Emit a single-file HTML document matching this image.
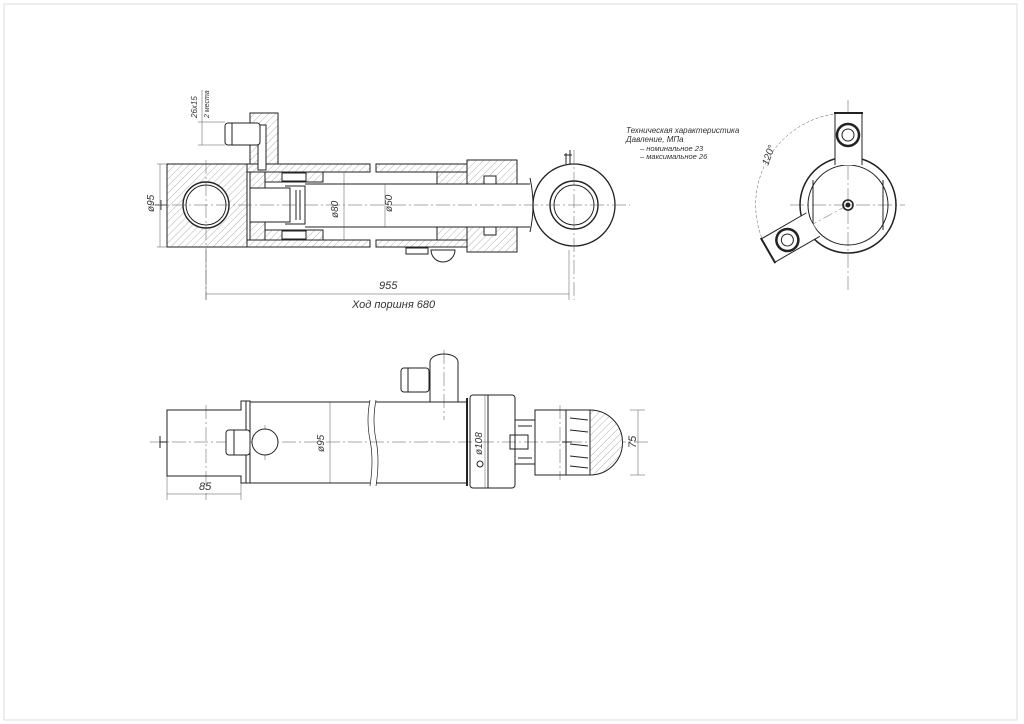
<!DOCTYPE html>
<html><head><meta charset="utf-8"><style>
html,body{margin:0;padding:0;background:#fff}
svg{display:block}
text{font-family:"Liberation Sans",sans-serif;font-style:italic;fill:#333}
</style></head><body>
<svg width="1024" height="724" viewBox="0 0 1024 724" xmlns="http://www.w3.org/2000/svg">
<defs>
<pattern id="h" width="5" height="5" patternUnits="userSpaceOnUse" patternTransform="rotate(45)">
<rect width="5" height="5" fill="#fff"/><line x1="0" y1="0" x2="0" y2="5" stroke="#666" stroke-width="0.5"/>
</pattern>
</defs>
<rect x="4" y="4" width="1013" height="716" fill="none" stroke="#ddd" stroke-width="1"/>
<g fill="none" stroke="#222" stroke-width="1">
<path d="M167 164H370M376 164H467M167 247H370M376 247H467" />
<rect x="167" y="164" width="80" height="83" fill="url(#h)"/>
<circle cx="206" cy="205" r="23" fill="#fff" stroke-width="1.4"/>
<circle cx="206" cy="205" r="20"/>
<rect x="247" y="164" width="123" height="8" fill="url(#h)"/>
<rect x="247" y="240" width="123" height="7" fill="url(#h)"/>
<rect x="376" y="164" width="91" height="8" fill="url(#h)"/>
<rect x="376" y="240" width="91" height="7" fill="url(#h)"/>
<rect x="250" y="113" width="28" height="51" fill="url(#h)"/>
<rect x="258" y="125" width="8" height="45" fill="#fff"/>
<rect x="225" y="123" width="35" height="22" rx="3" fill="#fff"/>
<path d="M232 123V145"/>
<rect x="250" y="172" width="15" height="68" fill="url(#h)"/>
<rect x="265" y="172" width="58" height="10" fill="url(#h)"/>
<rect x="265" y="230" width="58" height="10" fill="url(#h)"/>
<rect x="282" y="173" width="24" height="8" fill="#fff"/>
<rect x="282" y="231" width="24" height="8" fill="#fff"/>
<path d="M250 188H290V222H250Z" fill="#fff"/>
<path d="M285 186H305V224H285" />
<path d="M290 190V220M296 190V220M300 190V220"/>
<path d="M305 184H530M305 227H530"/>
<path d="M530 178Q536 205 530 232" />
<rect x="437" y="172" width="30" height="12" fill="url(#h)"/>
<rect x="437" y="227" width="30" height="13" fill="url(#h)"/>
<rect x="467" y="160" width="50" height="24" fill="url(#h)"/>
<rect x="467" y="227" width="50" height="25" fill="url(#h)"/>
<rect x="484" y="176" width="12" height="8" fill="#fff"/>
<rect x="484" y="227" width="12" height="8" fill="#fff"/>
<rect x="406" y="248" width="22" height="6"/>
<path d="M431 250A12 12 0 0 0 455 250Z" fill="#fff"/>
<circle cx="574" cy="205" r="41" fill="#fff" stroke-width="1.3"/>
<circle cx="574" cy="205" r="24" stroke-width="1.4"/>
<circle cx="574" cy="205" r="20"/>
<path d="M566 164V153M570 164V150M564 155H572"/>
<path d="M167 205H155M161 200V210" stroke-width="0.8"/>
</g>
<g fill="none" stroke="#555" stroke-width="0.5">
<path d="M150 205H630M206 160V300M574 150V300M848 100V290M790 205H905" stroke-dasharray="14 3 2 3"/>
<path d="M160 164V247M157 164H167M157 247H167"/>
<path d="M206 294H569M206 250V300M569 250V300"/>
<path d="M344 172V240M385 184V227"/>
<path d="M202 90V145M198 122H225M198 145H225"/>
<path d="M848 113A92 92 0 0 0 768 251" stroke-dasharray="3 2"/>
<path d="M848 205L780 242" stroke-dasharray="10 3 2 3"/>
<path d="M330 402V483M485 395V488M638 410V475M630 410H645M630 475H645M167 494H241M167 476V500M241 476V500"/>
<path d="M150 442H650M206 405V500M444 350V420M265 425V460M560 405V480" stroke-dasharray="14 3 2 3"/>
</g>
<g font-size="10">
<text x="379" y="289" font-size="11">955</text>
<text x="352" y="308" font-size="11">Ход поршня 680</text>
<text x="199" y="490" font-size="11">85</text>
<text transform="translate(154,212) rotate(-90)">ø95</text>
<text transform="translate(338,218) rotate(-90)">ø80</text>
<text transform="translate(392,212) rotate(-90)">ø50</text>
<text transform="translate(197,118) rotate(-90)" font-size="8">26x15</text>
<text transform="translate(209,118) rotate(-90)" font-size="7">2 места</text>
<text transform="translate(324,452) rotate(-90)">ø95</text>
<text transform="translate(482,455) rotate(-90)">ø108</text>
<text transform="translate(636,448) rotate(-90)" font-size="11">75</text>
<text transform="translate(768,166) rotate(-70)" font-size="10">120°</text>
<text x="626" y="133" font-size="8">Техническая характеристика</text>
<text x="626" y="142" font-size="8">Давление, МПа</text>
<text x="640" y="151" font-size="7.5">– номинальное      23</text>
<text x="640" y="159" font-size="7.5">– максимальное   26</text>
</g>
<g fill="none" stroke="#222" stroke-width="1">
<circle cx="848" cy="205" r="48" stroke-width="1.5"/>
<circle cx="848" cy="205" r="40"/>
<path d="M813 180V230M883 180V230"/>
<path d="M835 165V113H862V165" fill="#fff"/>
<path d="M834 113H863" stroke-width="2"/>
<circle cx="848" cy="135" r="11" stroke-width="2.5"/>
<circle cx="848" cy="135" r="6"/>
<g transform="rotate(-120 848 205)"><path d="M835 165V113H862V165" fill="#fff"/><path d="M834 113H863" stroke-width="2"/><circle cx="848" cy="135" r="11" stroke-width="2.5"/><circle cx="848" cy="135" r="6"/></g>
<circle cx="848" cy="205" r="5" stroke-width="1.6"/>
<circle cx="848" cy="205" r="2" fill="#222"/>
</g>
<g fill="none" stroke="#222" stroke-width="1">
<path d="M167 410H241V401H250V483H241V476H167Z"/>
<path d="M250 402H370M376 402H467M250 483H370M376 483H467M467 402V483"/>
<path d="M370 400Q366 420 370 440T370 486M376 400Q372 420 376 440T376 486" stroke-width="0.7"/>
<path d="M246 401V483"/>
<circle cx="265" cy="442" r="13" fill="#fff"/>
<rect x="226" y="430" width="24" height="25" rx="3" fill="#fff"/>
<path d="M234 430V455"/>
<path d="M430 402V362A14 8 0 0 1 458 362V402"/>
<rect x="401" y="368" width="28" height="24" rx="3" fill="#fff"/>
<path d="M408 368V392"/>
<rect x="470" y="395" width="45" height="93" rx="3"/>
<path d="M467 398V486" stroke-width="2"/>
<path d="M488 395V488"/>
<rect x="510" y="435" width="18" height="14"/>
<path d="M515 420H535V464H515M518 426H532M518 458H532"/>
<rect x="535" y="410" width="55" height="65"/>
<path d="M566 410V475M570 418L588 420M570 430L588 432M570 444L588 446M570 456L588 458M570 466L588 468"/>
<path d="M590 410A32 32 0 0 1 590 475Z" fill="url(#h)"/>
<circle cx="480" cy="464" r="3"/>
<path d="M562 442H572M160 442H167M160 436V448"/>
</g>
</svg>
</body></html>
